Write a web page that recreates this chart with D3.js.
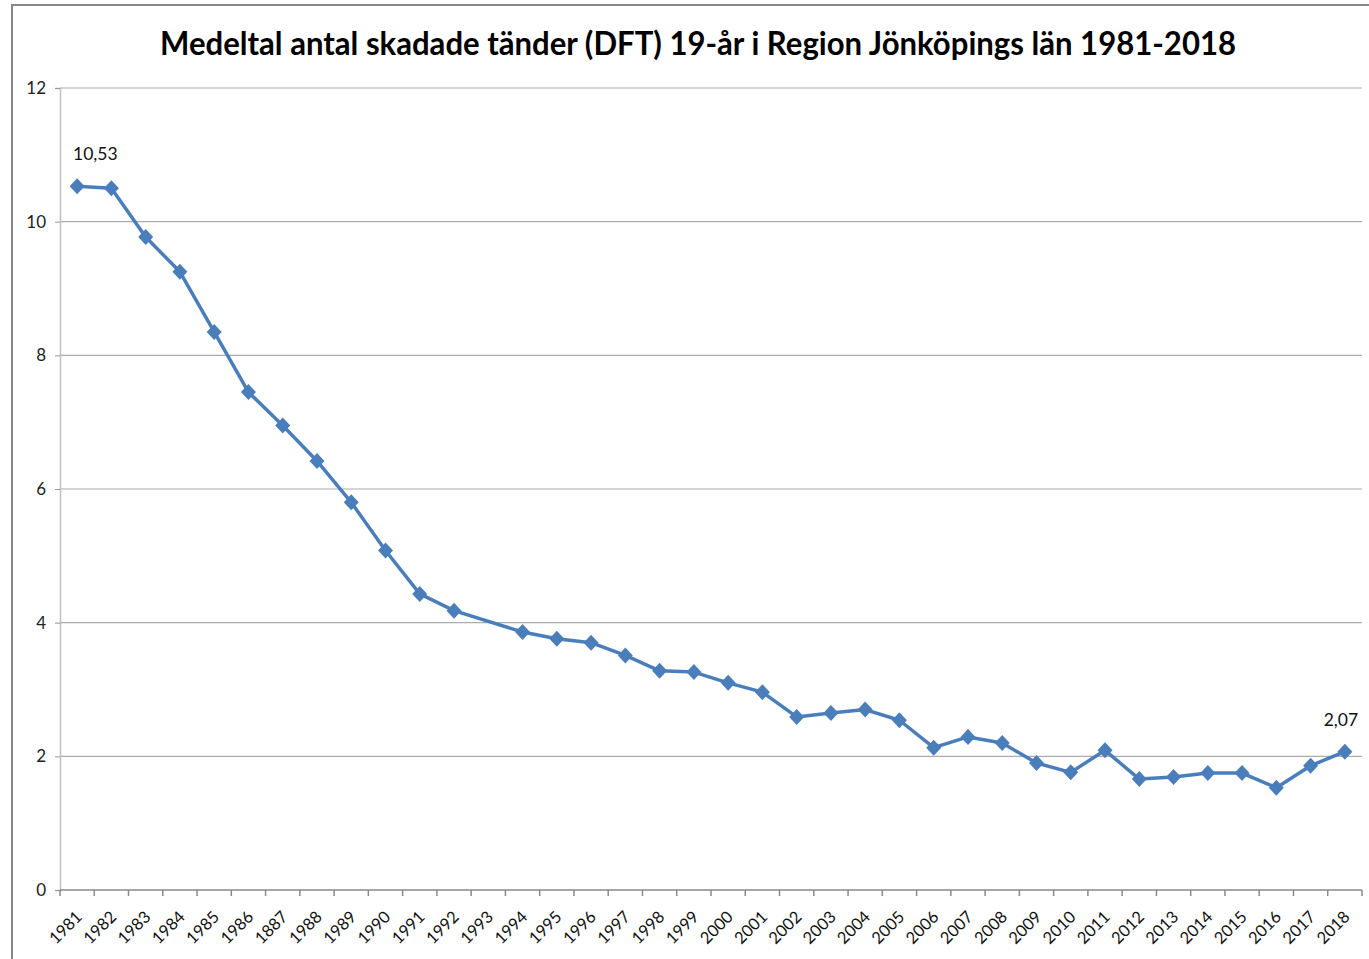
<!DOCTYPE html>
<html>
<head>
<meta charset="utf-8">
<script src="https://cdn.jsdelivr.net/npm/d3@7"></script>
<style>
  body { margin: 0; background: #fff; }
  svg { display: block; font-family: Lato, "Open Sans", sans-serif; }
</style>
</head>
<body>
<div id="chart"></div>
<script>
'use strict';

// Category labels as printed on the chart (note the "1887" typo is in the original)
var YEARS = ['1981', '1982', '1983', '1984', '1985', '1986', '1887', '1988', '1989', '1990',
  '1991', '1992', '1993', '1994', '1995', '1996', '1997', '1998', '1999', '2000',
  '2001', '2002', '2003', '2004', '2005', '2006', '2007', '2008', '2009', '2010',
  '2011', '2012', '2013', '2014', '2015', '2016', '2017', '2018'];

// Mean DFT per year, 1993 missing
var DFT = [10.53, 10.50, 9.77, 9.25, 8.35, 7.45, 6.95, 6.42, 5.80, 5.08,
  4.43, 4.18, null, 3.86, 3.76, 3.70, 3.51, 3.28, 3.26, 3.10,
  2.96, 2.59, 2.65, 2.70, 2.54, 2.13, 2.29, 2.20, 1.90, 1.76,
  2.09, 1.66, 1.69, 1.75, 1.75, 1.53, 1.86, 2.07];

var Y_TICKS = [0, 2, 4, 6, 8, 10, 12];
var LABELED = ['1981', '2018'];
var TITLE = 'Medeltal antal skadade tänder (DFT) 19-år i Region Jönköpings län 1981-2018';

var WIDTH = 1369;
var HEIGHT = 959;
var LINE_COLOR = '#4a7ebb';

var svg = d3.select('#chart').append('svg')
  .attr('width', WIDTH)
  .attr('height', HEIGHT);

// outer chart frame (only top and left visible in the crop)
svg.append('path')
  .attr('d', 'M12,' + HEIGHT + 'V5H' + WIDTH)
  .attr('fill', 'none')
  .attr('stroke', '#868686')
  .attr('stroke-width', 2);

svg.append('text')
  .attr('x', 698)
  .attr('y', 55)
  .attr('text-anchor', 'middle')
  .attr('font-size', 33)
  .attr('font-weight', 'bold')
  .attr('textLength', 1076)
  .attr('lengthAdjust', 'spacingAndGlyphs')
  .attr('fill', '#000')
  .text(TITLE);

var x = d3.scaleBand()
  .domain(YEARS)
  .range([60, 1362]);

var y = d3.scaleLinear()
  .domain([0, 12])
  .range([890, 88]);

// horizontal gridlines
svg.append('g')
  .selectAll('line')
  .data(Y_TICKS.filter(function(d) { return d > 0; }))
  .enter()
  .append('line')
  .attr('x1', 60)
  .attr('x2', 1362)
  .attr('y1', function(d) { return y(d); })
  .attr('y2', function(d) { return y(d); })
  .attr('stroke', '#acacac')
  .attr('stroke-width', 1.2);

// y axis
var yAxis = svg.append('g')
  .attr('transform', 'translate(60,0)')
  .call(d3.axisLeft(y).tickValues(Y_TICKS).tickSize(5).tickPadding(9).tickFormat(d3.format('d')));
yAxis.select('.domain').attr('stroke', '#c0c0c0').attr('stroke-width', 1.5);
yAxis.selectAll('.tick line').attr('stroke', '#999');
yAxis.selectAll('.tick text')
  .attr('font-size', 17)
  .attr('font-family', 'Lato, sans-serif')
  .attr('fill', '#222');

// x axis: ticks sit between categories
var xAxis = svg.append('g')
  .attr('transform', 'translate(0,890)');
xAxis.append('line')
  .attr('x1', 60)
  .attr('x2', 1362)
  .attr('stroke', '#8a8a8a')
  .attr('stroke-width', 1.5);
xAxis.selectAll('line.tk')
  .data(YEARS.concat(['end']))
  .enter()
  .append('line')
  .attr('class', 'tk')
  .attr('x1', function(d, i) { return i < YEARS.length ? x(d) : x.range()[1]; })
  .attr('x2', function(d, i) { return i < YEARS.length ? x(d) : x.range()[1]; })
  .attr('y1', 0)
  .attr('y2', 6)
  .attr('stroke', '#8a8a8a')
  .attr('stroke-width', 1.5);
xAxis.selectAll('text')
  .data(YEARS)
  .enter()
  .append('text')
  .attr('transform', function(d) {
    return 'translate(' + (x(d) + x.bandwidth() / 2 + 6) + ',28) rotate(-45)';
  })
  .attr('text-anchor', 'end')
  .attr('font-size', 16.5)
  .attr('fill', '#111')
  .text(function(d) { return d; });

var points = YEARS.map(function(yr, i) { return { year: yr, value: DFT[i] }; })
  .filter(function(d) { return d.value !== null; });

var cx = function(d) { return x(d.year) + x.bandwidth() / 2; };

svg.append('path')
  .datum(points)
  .attr('fill', 'none')
  .attr('stroke', LINE_COLOR)
  .attr('stroke-width', 3.5)
  .attr('stroke-linejoin', 'round')
  .attr('d', d3.line().x(cx).y(function(d) { return y(d.value); }));

svg.append('g')
  .selectAll('path')
  .data(points)
  .enter()
  .append('path')
  .attr('transform', function(d) { return 'translate(' + cx(d) + ',' + y(d.value) + ')'; })
  .attr('d', 'M0,-8L7.5,0L0,8L-7.5,0Z')
  .attr('fill', LINE_COLOR);

// data labels above the first and last point, kept clear of the y axis
svg.append('g')
  .selectAll('text')
  .data(points.filter(function(d) { return LABELED.indexOf(d.year) !== -1; }))
  .enter()
  .append('text')
  .attr('y', function(d) { return y(d.value) - 26; })
  .attr('text-anchor', 'middle')
  .attr('font-size', 17.5)
  .attr('fill', '#111')
  .text(function(d) { return d3.format('.2f')(d.value).replace('.', ','); })
  .attr('x', function(d) {
    var w = this.getComputedTextLength();
    return Math.max(cx(d) - 4, x.range()[0] + 13 + w / 2);
  });
</script>
</body>
</html>
